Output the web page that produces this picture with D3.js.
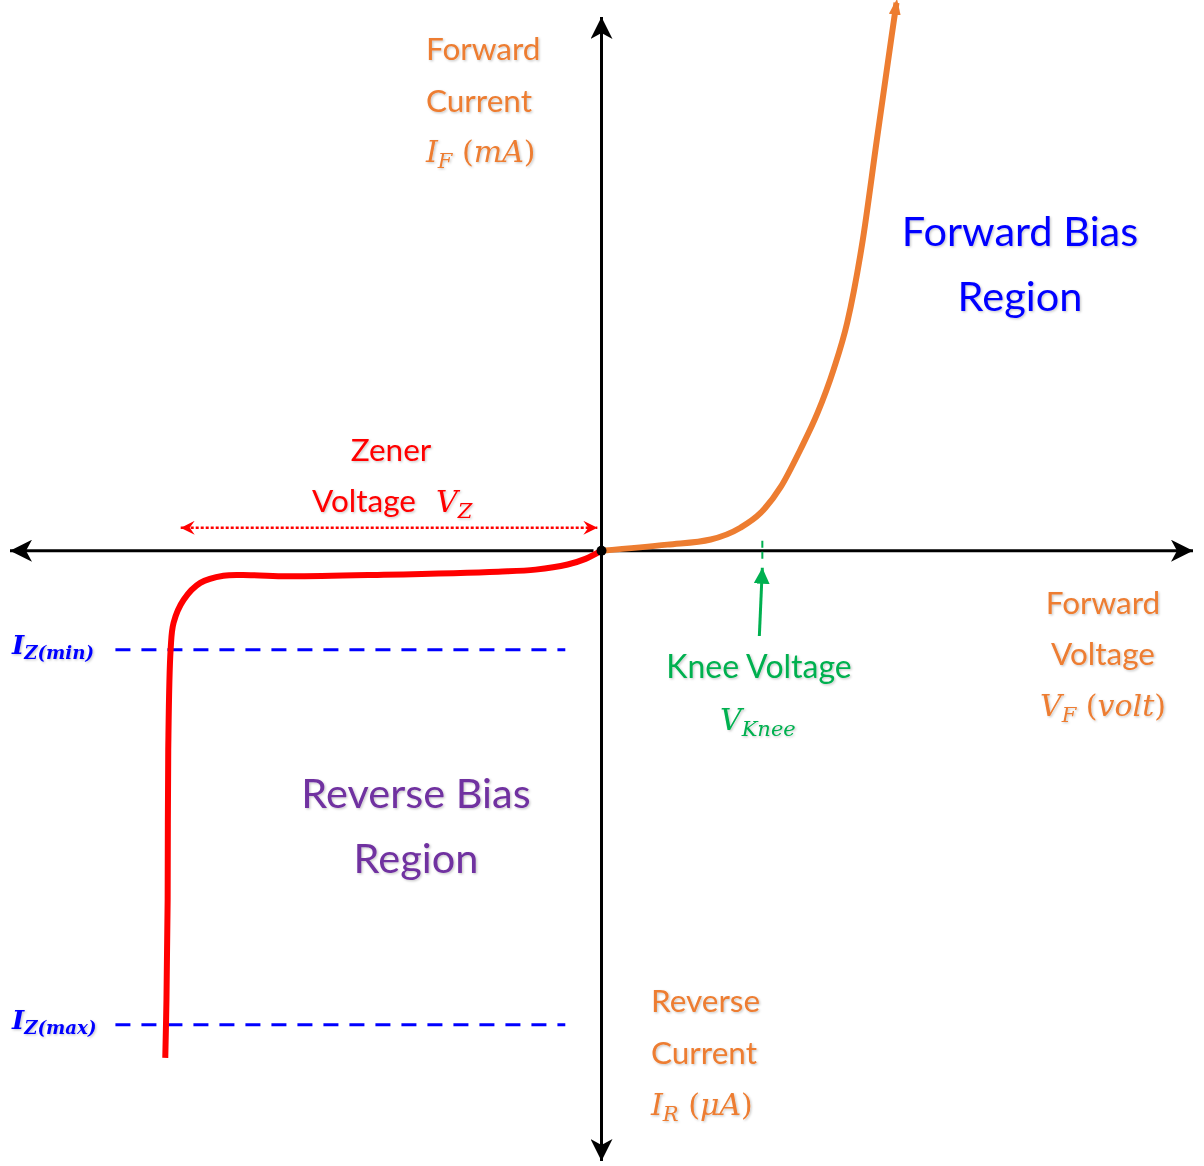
<!DOCTYPE html>
<html>
<head>
<meta charset="utf-8">
<script src="https://cdn.jsdelivr.net/npm/d3@7"></script>
<style>
  html, body { margin: 0; padding: 0; background: #fff; }
  svg text { font-family: Lato, "Open Sans", sans-serif; }
  .math { font-family: "DejaVu Serif", "Liberation Serif", serif; font-style: italic; }
</style>
</head>
<body>
<div id="chart"></div>
<script>
// Zener diode I-V characteristic

// forward bias curve (volt, mA)
const forwardV = [0, 1.11, 1.84, 2.34, 2.68, 3.02, 3.35, 3.64, 3.91, 4.14, 4.39, 4.64, 4.89, 4.97];
const forwardI = [0, 0.12, 0.22, 0.45, 0.74, 1.25, 1.98, 2.70, 3.55, 4.47, 6.00, 8.06, 10.10, 10.74];

// reverse bias curve (volt, uA)
const reverseV = [0, -0.27, -0.57, -1.11, -1.74, -3.67, -5.29, -5.91, -6.37, -6.76, -7.04, -7.21, -7.26, -7.30, -7.31, -7.33, -7.35];
const reverseI = [0, -0.16, -0.27, -0.37, -0.41, -0.47, -0.50, -0.48, -0.49, -0.63, -0.96, -1.41, -1.94, -3.90, -6.84, -8.80, -9.94];

// reference levels
const izLabels = ["min", "max"];
const izLevels = [-1.94, -9.29];
const izStartV = -8.19, izEndV = -0.61;
const zenerArrowV = [-7.09, -0.07];
const zenerArrowI = 0.45;
const kneeV = 2.71;

// colours
const orange = "#ed7d31";
const red = "#ff0000";
const blue = "#0000ff";
const purple = "#7030a0";
const green = "#00b050";

const W = 1204, H = 1166;

const x = d3.scaleLinear().domain([-10, 10]).range([8, 1195]);
const y = d3.scaleLinear().domain([-12, 10.5]).range([1163, 15]);

const svg = d3.select("#chart").append("svg")
    .attr("width", W).attr("height", H);

const defs = svg.append("defs");

// soft text shadow
const f = defs.append("filter").attr("id", "shadow")
    .attr("x", "-10%").attr("y", "-20%").attr("width", "130%").attr("height", "150%");
f.append("feDropShadow").attr("dx", 1.2).attr("dy", 1.2)
    .attr("stdDeviation", 0.8).attr("flood-color", "#000").attr("flood-opacity", 0.22);

function marker(id, color, path, w, h, refX) {
    defs.append("marker")
        .attr("id", id)
        .attr("viewBox", `-${w} -${h / 2} ${w} ${h}`)
        .attr("markerWidth", w).attr("markerHeight", h)
        .attr("markerUnits", "userSpaceOnUse")
        .attr("refX", refX).attr("refY", 0)
        .attr("orient", "auto-start-reverse")
        .append("path").attr("d", path).attr("fill", color);
}
marker("axisArrow", "#000", "M0,0 L-22,-11 L-16,0 L-22,11 Z", 22, 22, 0);
marker("zenerArrow", red, "M0,0 L-14,-7 L-9,0 L-14,7 Z", 14, 14, 0);
marker("kneeArrow", green, "M0,0 L-16,-8 L-16,8 Z", 16, 16, 0);
marker("fwdArrow", orange, "M0,0 L-16,-6 L-16,6 Z", 16, 12, -4);

// axes
svg.append("line")
    .attr("x1", x(0) + 8).attr("x2", x(10) - 2)
    .attr("y1", y(0)).attr("y2", y(0))
    .attr("stroke", "#000").attr("stroke-width", 3)
    .attr("marker-end", "url(#axisArrow)");
svg.append("line")
    .attr("x1", x(0) - 8).attr("x2", x(-10) + 2)
    .attr("y1", y(0)).attr("y2", y(0))
    .attr("stroke", "#000").attr("stroke-width", 3)
    .attr("marker-end", "url(#axisArrow)");
svg.append("line")
    .attr("x1", x(0)).attr("x2", x(0))
    .attr("y1", y(0)).attr("y2", y(10.5) + 2)
    .attr("stroke", "#000").attr("stroke-width", 3)
    .attr("marker-end", "url(#axisArrow)");
svg.append("line")
    .attr("x1", x(0)).attr("x2", x(0))
    .attr("y1", y(0)).attr("y2", y(-12) - 2)
    .attr("stroke", "#000").attr("stroke-width", 3)
    .attr("marker-end", "url(#axisArrow)");

// Iz dashed lines
svg.selectAll(".iz").data(izLevels).enter().append("line")
    .attr("class", "iz")
    .attr("x1", x(izStartV)).attr("x2", x(izEndV))
    .attr("y1", d => y(d)).attr("y2", d => y(d))
    .attr("stroke", blue).attr("stroke-width", 3)
    .attr("stroke-dasharray", "15,11");

// curves
const revLine = d3.line()
    .x(d => x(d[0])).y(d => y(d[1]))
    .curve(d3.curveCatmullRom.alpha(0.5));

const fwdLine = d3.line()
    .x(d => x(d[0])).y(d => y(d[1]))
    .curve(d3.curveMonotoneX);

svg.append("path")
    .datum(reverseV.map((v, i) => [v, reverseI[i]]))
    .attr("d", revLine)
    .attr("fill", "none").attr("stroke", red).attr("stroke-width", 6);

svg.append("path")
    .datum(forwardV.map((v, i) => [v, forwardI[i]]))
    .attr("d", fwdLine)
    .attr("fill", "none").attr("stroke", orange).attr("stroke-width", 6)
    .attr("marker-end", "url(#fwdArrow)");

// origin dot
svg.append("circle")
    .attr("cx", x(0)).attr("cy", y(0)).attr("r", 5).attr("fill", "#000");

// zener voltage dotted arrow
svg.append("line")
    .attr("x1", x(zenerArrowV[0])).attr("x2", x(zenerArrowV[1]))
    .attr("y1", y(zenerArrowI)).attr("y2", y(zenerArrowI))
    .attr("stroke", red).attr("stroke-width", 2.5)
    .attr("stroke-dasharray", "3,2")
    .attr("marker-start", "url(#zenerArrow)")
    .attr("marker-end", "url(#zenerArrow)");

// knee voltage tick and arrow
svg.append("line")
    .attr("x1", x(kneeV)).attr("x2", x(kneeV))
    .attr("y1", y(0) - 10).attr("y2", y(0) + 12)
    .attr("stroke", green).attr("stroke-width", 2)
    .attr("stroke-dasharray", "7,4");
svg.append("line")
    .attr("x1", x(kneeV) - 3).attr("x2", x(kneeV))
    .attr("y1", 636).attr("y2", y(0) + 17)
    .attr("stroke", green).attr("stroke-width", 3)
    .attr("marker-end", "url(#kneeArrow)");

// labels
const labels = svg.append("g").attr("filter", "url(#shadow)");

function words(lines, xPos, anchor, color, size) {
    lines.forEach(l => {
        labels.append("text")
            .attr("x", xPos).attr("y", l[1])
            .attr("text-anchor", anchor)
            .attr("fill", color)
            .attr("font-size", size)
            .text(l[0]);
    });
}

// italic symbol with subscript, optional "(unit)" with upright brackets
function mathText(xPos, yPos, anchor, color, size, main, sub, unit, weight) {
    const t = labels.append("text")
        .attr("class", "math")
        .attr("x", xPos).attr("y", yPos)
        .attr("text-anchor", anchor)
        .attr("fill", color)
        .attr("font-size", size)
        .attr("font-weight", weight || "normal");
    t.append("tspan").text(main);
    t.append("tspan").attr("font-size", size * 0.7).attr("dy", size * 0.2).text(sub);
    if (unit) {
        t.append("tspan").attr("dy", -size * 0.2).attr("font-style", "normal").text(" (");
        t.append("tspan").text(unit);
        t.append("tspan").attr("font-style", "normal").text(")");
    }
    return t;
}

words([["Forward", 60], ["Current", 112]], 426, "start", orange, 31.5);
mathText(426, 162, "start", orange, 30, "I", "F", "mA");

words([["Forward Bias", 246], ["Region", 311]], 1020, "middle", blue, 41.5);

words([["Zener", 461]], 391, "middle", red, 31.5);
words([["Voltage", 512]], 312, "start", red, 31.5);
mathText(436, 512, "start", red, 30, "V", "Z");

words([["Knee Voltage", 678]], 759, "middle", green, 32);
mathText(720, 730, "start", green, 30, "V", "Knee");

words([["Forward", 614], ["Voltage", 665]], 1103, "middle", orange, 31.5);
mathText(1103, 716, "middle", orange, 30, "V", "F", "volt");

words([["Reverse Bias", 808], ["Region", 873]], 416, "middle", purple, 41.5);

words([["Reverse", 1012], ["Current", 1064]], 651, "start", orange, 31.5);
mathText(651, 1115, "start", orange, 30, "I", "R", "\u03bcA");

izLevels.forEach((lv, i) => {
    mathText(12, y(lv) + 4, "start", blue, 26, "I", "Z(" + izLabels[i] + ")", null, "bold");
});
</script>
</body>
</html>
